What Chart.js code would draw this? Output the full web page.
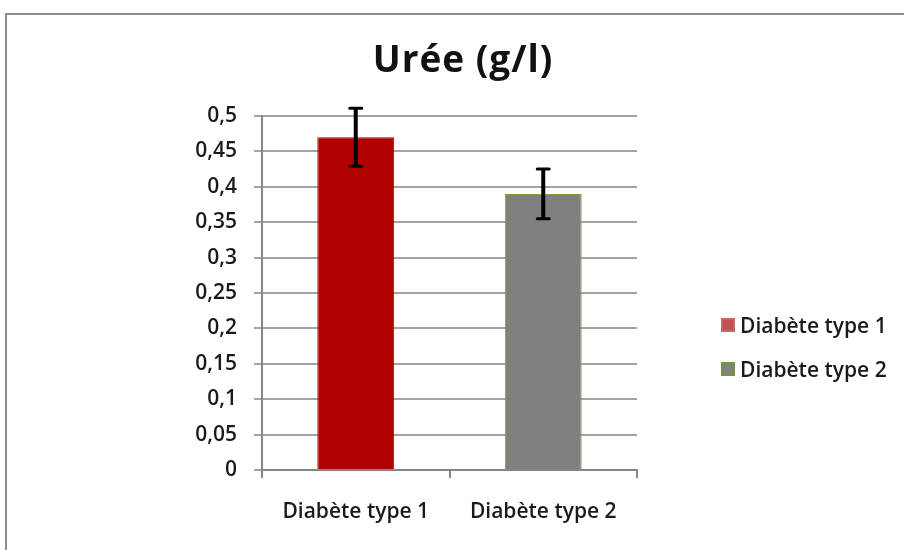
<!DOCTYPE html>
<html lang="fr">
<head>
<meta charset="utf-8">
<title>Urée (g/l)</title>
<script src="https://cdn.jsdelivr.net/npm/chart.js@4/dist/chart.umd.min.js"></script>
<style>
  body { margin: 0; background: #fff; font-family: "Open Sans", Lato, sans-serif; }
  #wrap { position: relative; width: 904px; height: 550px; overflow: hidden; }
  #frame { position: absolute; left: 5px; top: 13px; width: 1000px; height: 1000px; border: 2px solid #8c8c8c; }
  #myChart { position: absolute; left: 0; top: 0; }
  #title { position: absolute; left: 313px; width: 300px; top: 36px; line-height: 44px; letter-spacing: 1px;
           text-align: center; font-weight: bold; font-size: 37px; color: #111; }
  #legend { position: absolute; left: 721px; top: 311px; font-size: 21px; font-weight: 600; color: #1a1a1a; }
  #legend .item { display: flex; align-items: center; height: 28px; margin-bottom: 16px; }
  #legend .box { width: 14px; height: 14px; margin-right: 5px; box-sizing: border-box; border: 2px solid; }
</style>
</head>
<body>
<div id="wrap">
  <div id="frame"></div>
  <canvas id="myChart" width="904" height="550"></canvas>
  <div id="title">Urée (g/l)</div>
  <div id="legend"></div>
</div>
<script>
const categories = ['Diabète type 1', 'Diabète type 2'];
const ureeValues = [0.47, 0.39];
const ureeErrors = [0.041, 0.035];
const yTickLabels = ['0', '0,05', '0,1', '0,15', '0,2', '0,25', '0,3', '0,35', '0,4', '0,45', '0,5'];

const barColors = ['#b00000', '#808080'];
const barBorders = ['#b00000', '#7aa03c'];
const legendFill = ['#c0504d', '#808080'];
const legendBorder = ['#c86461', '#76923c'];

const tickFont = { family: 'Open Sans', size: 21, weight: '600' };

// black error bars drawn on top of each bar
const errorBars = {
  id: 'errorBars',
  afterDatasetsDraw(chart) {
    const ctx = chart.ctx;
    const y = chart.scales.y;
    const meta = chart.getDatasetMeta(0);
    ctx.save();
    ctx.strokeStyle = '#000';
    meta.data.forEach((bar, i) => {
      const top = y.getPixelForValue(ureeValues[i] + ureeErrors[i]);
      const bottom = y.getPixelForValue(ureeValues[i] - ureeErrors[i]);
      ctx.lineWidth = 4;
      ctx.lineCap = 'butt';
      ctx.beginPath();
      ctx.moveTo(bar.x, top);
      ctx.lineTo(bar.x, bottom);
      ctx.stroke();
      ctx.lineWidth = 3;
      ctx.lineCap = 'round';
      ctx.beginPath();
      ctx.moveTo(bar.x - 6, top);
      ctx.lineTo(bar.x + 6, top);
      ctx.moveTo(bar.x - 6, bottom);
      ctx.lineTo(bar.x + 6, bottom);
      ctx.stroke();
    });
    ctx.restore();
  }
};

function buildLegend() {
  const el = document.getElementById('legend');
  categories.forEach((name, i) => {
    const item = document.createElement('div');
    item.className = 'item';
    const box = document.createElement('span');
    box.className = 'box';
    box.style.background = legendFill[i];
    box.style.borderColor = legendBorder[i];
    item.appendChild(box);
    item.appendChild(document.createTextNode(name));
    el.appendChild(item);
  });
}

function chartUpdate() {
  const ctx = document.getElementById('myChart').getContext('2d');
  return new Chart(ctx, {
    type: 'bar',
    data: {
      labels: categories,
      datasets: [{
        label: 'Urée (g/l)',
        data: ureeValues,
        backgroundColor: barColors,
        borderColor: barBorders,
        borderWidth: 1,
        barPercentage: 0.41,
        categoryPercentage: 1
      }]
    },
    options: {
      responsive: false,
      animation: false,
      devicePixelRatio: 1,
      layout: { padding: { left: 190, right: 267, top: 116, bottom: 0 } },
      plugins: {
        legend: { display: false },
        title: { display: false },
        tooltip: { enabled: false }
      },
      scales: {
        x: {
          grid: { drawOnChartArea: false, drawTicks: true, tickLength: 8, color: '#868686', lineWidth: 2, offset: true },
          border: { color: '#868686', width: 2 },
          ticks: { font: tickFont, color: '#1a1a1a', padding: 21 },
          afterFit(scale) { scale.height = 80; }
        },
        y: {
          min: 0,
          max: 0.5,
          grid: { color: '#a3a3a3', lineWidth: 2, tickLength: 8 },
          border: { color: '#868686', width: 2 },
          ticks: {
            stepSize: 0.05,
            font: tickFont,
            color: '#1a1a1a',
            padding: 17,
            callback: (value, index) => yTickLabels[index]
          },
          afterFit(scale) { scale.width = 72; }
        }
      }
    },
    plugins: [errorBars]
  });
}

buildLegend();
chartUpdate();
</script>
</body>
</html>
